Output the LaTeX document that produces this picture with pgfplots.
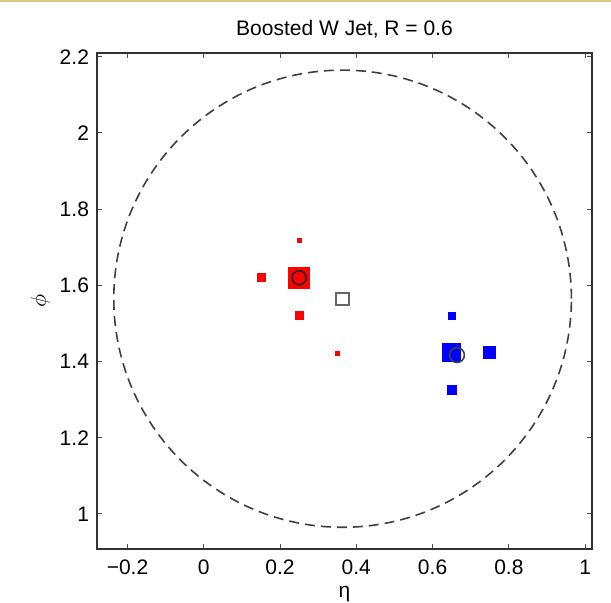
\documentclass[border=0pt]{standalone}
\usepackage{fontspec}
\setmainfont{Liberation Sans}
\usepackage{pgfplots}
\pgfplotsset{compat=1.18}
\definecolor{jetred}{RGB}{255,0,0}
\definecolor{jetblue}{RGB}{0,0,255}
\definecolor{tan}{RGB}{222,196,140}
\begin{document}
\begin{tikzpicture}
\begin{axis}[
  name=ax,
  scale only axis, width=247.5pt, height=248pt,
  xmin=-0.28, xmax=1.018, ymin=0.908, ymax=2.21,
  xtick={-0.2,0,0.2,0.4,0.6,0.8,1},
  xticklabels={−0.2,0,0.2,0.4,0.6,0.8,1},
  ytick={1,1.2,1.4,1.6,1.8,2,2.2},
  yticklabels={1,1.2,1.4,1.6,1.8,2,2.2},
  tick align=inside, major tick length=2.5pt,
  every tick/.style={black!70, line width=0.5pt},
  axis line style={black!80, line width=0.9pt},
  font=\fontsize{10.5}{12}\selectfont,
  tick label style={font=\fontsize{10.5}{12}\selectfont},
  xticklabel style={yshift=-2pt},
  yticklabel style={xshift=-0.5pt},
  title={Boosted W Jet, R = 0.6},
  title style={yshift=-2pt},
  xlabel={η}, xlabel style={yshift=1pt},
  ylabel={$\phi$}, ylabel style={yshift=-2pt},
  clip=false,
]
% dashed jet cone
\draw[dashed, black!75, line width=0.8pt, dash pattern=on 5pt off 3pt]
  (axis cs:0.364,1.565) circle [radius=0.6];
% red (first subjet) constituents
\addplot[only marks, mark=square*, color=jetred, mark size=5.25pt] coordinates {(0.25,1.62)};
\addplot[only marks, mark=square*, color=jetred, mark size=2pt] coordinates {(0.15,1.62) (0.25,1.52)};
\addplot[only marks, mark=square*, color=jetred, mark size=1pt] coordinates {(0.25,1.718) (0.35,1.422)};
% blue (second subjet) constituents
\addplot[only marks, mark=square*, color=jetblue, mark size=4.5pt] coordinates {(0.65,1.423)};
\addplot[only marks, mark=square*, color=jetblue, mark size=3pt] coordinates {(0.748,1.423)};
\addplot[only marks, mark=square*, color=jetblue, mark size=2.25pt] coordinates {(0.65,1.325)};
\addplot[only marks, mark=square*, color=jetblue, mark size=1.75pt] coordinates {(0.65,1.52)};
% jet axis
\addplot[only marks, mark=square*, mark options={draw=black!60, fill=white, line width=1pt}, mark size=3.1pt] coordinates {(0.364,1.564)};
% subjet axes
\addplot[only marks, mark=o, mark options={draw=black!85, line width=0.8pt}, mark size=3.5pt] coordinates {(0.25,1.62)};
\addplot[only marks, mark=o, mark options={draw=black!75, line width=0.8pt}, mark size=3.7pt] coordinates {(0.664,1.417)};
\end{axis}
\draw[tan, line width=1pt] ([xshift=-48.5pt,yshift=26pt]ax.north west) -- ([xshift=9.5pt,yshift=26pt]ax.north east);
\pgfresetboundingbox
\useasboundingbox ([xshift=-48.5pt,yshift=-27pt]ax.south west) rectangle ([xshift=9.5pt,yshift=26.5pt]ax.north east);
\end{tikzpicture}
\end{document}
